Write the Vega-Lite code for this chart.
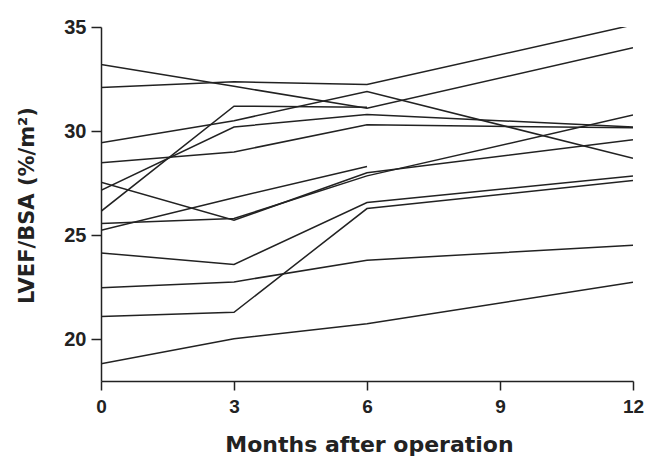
{
  "$schema": "https://vega.github.io/schema/vega-lite/v6.json",
  "width": 532,
  "height": 354,
  "autosize": {"type": "none"},
  "padding": {"left": 101, "top": 27, "right": 15, "bottom": 76},
  "background": "white",
  "config": {"view": {"stroke": null}, "font": "Liberation Sans"},
  "data": {
    "values": [
      {"id": "s1", "month": 0, "lvef": 33.2},
      {"id": "s1", "month": 3, "lvef": 32.15},
      {"id": "s1", "month": 6, "lvef": 31.1},
      {"id": "s1", "month": 12, "lvef": 34.0},
      {"id": "s2", "month": 0, "lvef": 32.1},
      {"id": "s2", "month": 3, "lvef": 32.37},
      {"id": "s2", "month": 6, "lvef": 32.24},
      {"id": "s2", "month": 12, "lvef": 35.1},
      {"id": "s3", "month": 0, "lvef": 29.44},
      {"id": "s3", "month": 3, "lvef": 30.5},
      {"id": "s3", "month": 6, "lvef": 31.9},
      {"id": "s3", "month": 12, "lvef": 28.7},
      {"id": "s4", "month": 0, "lvef": 28.48},
      {"id": "s4", "month": 3, "lvef": 29.0},
      {"id": "s4", "month": 6, "lvef": 30.3},
      {"id": "s4", "month": 12, "lvef": 30.16},
      {"id": "s5", "month": 0, "lvef": 27.16},
      {"id": "s5", "month": 3, "lvef": 30.2},
      {"id": "s5", "month": 6, "lvef": 30.8},
      {"id": "s5", "month": 12, "lvef": 30.2},
      {"id": "s6", "month": 0, "lvef": 26.15},
      {"id": "s6", "month": 3, "lvef": 31.2},
      {"id": "s6", "month": 6, "lvef": 31.15},
      {"id": "s7", "month": 0, "lvef": 27.55},
      {"id": "s7", "month": 3, "lvef": 25.72},
      {"id": "s7", "month": 6, "lvef": 28.0},
      {"id": "s7", "month": 12, "lvef": 29.58},
      {"id": "s8", "month": 0, "lvef": 25.56},
      {"id": "s8", "month": 3, "lvef": 25.8},
      {"id": "s8", "month": 6, "lvef": 27.85},
      {"id": "s8", "month": 12, "lvef": 30.77},
      {"id": "s9", "month": 0, "lvef": 25.24},
      {"id": "s9", "month": 3, "lvef": 26.8},
      {"id": "s9", "month": 6, "lvef": 28.3},
      {"id": "s10", "month": 0, "lvef": 24.15},
      {"id": "s10", "month": 3, "lvef": 23.6},
      {"id": "s10", "month": 6, "lvef": 26.57},
      {"id": "s10", "month": 12, "lvef": 27.84},
      {"id": "s11", "month": 0, "lvef": 22.48},
      {"id": "s11", "month": 3, "lvef": 22.76},
      {"id": "s11", "month": 6, "lvef": 23.8},
      {"id": "s11", "month": 12, "lvef": 24.52},
      {"id": "s12", "month": 0, "lvef": 21.1},
      {"id": "s12", "month": 3, "lvef": 21.3},
      {"id": "s12", "month": 6, "lvef": 26.28},
      {"id": "s12", "month": 12, "lvef": 27.63},
      {"id": "s13", "month": 0, "lvef": 18.83},
      {"id": "s13", "month": 3, "lvef": 20.03},
      {"id": "s13", "month": 6, "lvef": 20.75},
      {"id": "s13", "month": 12, "lvef": 22.74}
    ]
  },
  "mark": {"type": "line", "color": "#222222", "strokeWidth": 1.5, "clip": true},
  "encoding": {
    "x": {
      "field": "month",
      "type": "quantitative",
      "scale": {"domain": [0, 12], "nice": false, "zero": false},
      "axis": {
        "values": [0, 3, 6, 9, 12],
        "title": "Months after operation",
        "grid": false,
        "domainColor": "#222222",
        "domainWidth": 1.5,
        "tickColor": "#222222",
        "tickWidth": 1.5,
        "tickSize": 9,
        "labelFontSize": 19,
        "labelFontWeight": "bold",
        "labelColor": "#222222",
        "labelPadding": 7,
        "labelFlush": false,
        "titleFont": "DejaVu Sans",
        "titleFontSize": 22,
        "titleFontWeight": "bold",
        "titleColor": "#222222",
        "titleX": 268,
        "titleY": 70,
        "titleBaseline": "alphabetic"
      }
    },
    "y": {
      "field": "lvef",
      "type": "quantitative",
      "scale": {"domain": [18, 35], "nice": false, "zero": false},
      "axis": {
        "values": [20, 25, 30, 35],
        "title": "LVEF/BSA (%/m²)",
        "grid": false,
        "domainColor": "#222222",
        "domainWidth": 1.5,
        "tickColor": "#222222",
        "tickWidth": 1.5,
        "tickSize": 10,
        "labelFontSize": 20,
        "labelFontWeight": "bold",
        "labelColor": "#222222",
        "labelPadding": 5,
        "labelFlush": false,
        "titleFont": "DejaVu Sans",
        "titleFontSize": 21,
        "titleFontWeight": "bold",
        "titleColor": "#222222",
        "titleX": -68,
        "titleY": 178,
        "titleBaseline": "alphabetic",
        "titleAngle": -90
      }
    },
    "detail": {"field": "id", "type": "nominal"}
  }
}
